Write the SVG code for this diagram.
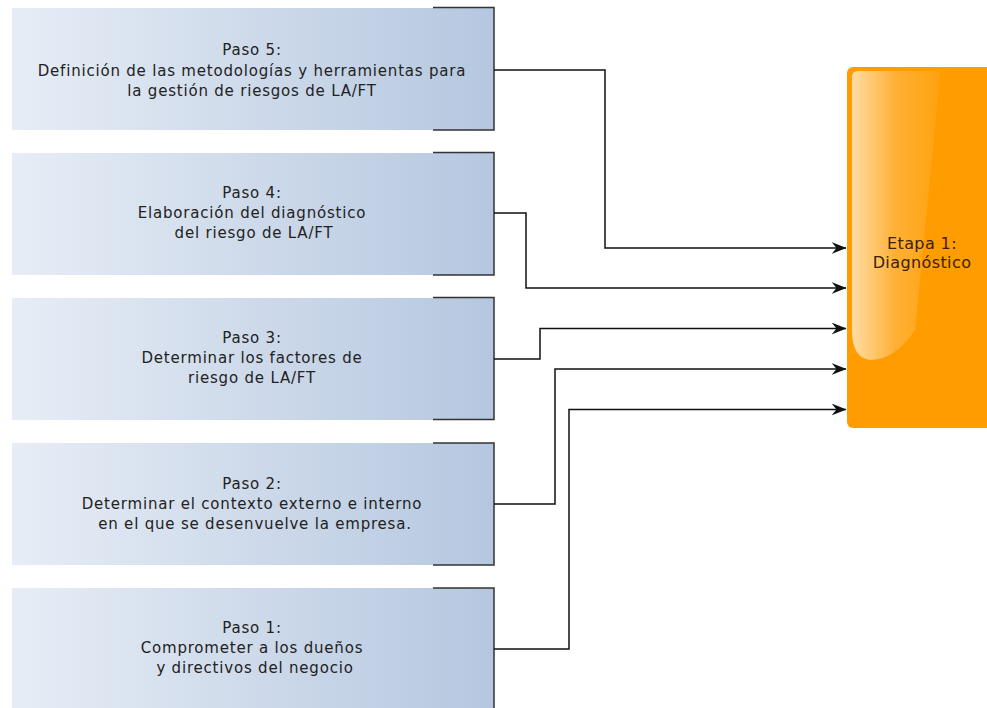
<svg xmlns="http://www.w3.org/2000/svg" width="987" height="708" viewBox="0 0 987 708">
<defs>
<linearGradient id="boxg" x1="0" y1="0" x2="1" y2="0">
<stop offset="0" stop-color="#e7edf6"/>
<stop offset="1" stop-color="#b5c7df"/>
</linearGradient>
<linearGradient id="gloss" x1="0" y1="0" x2="1" y2="0">
<stop offset="0" stop-color="#fff" stop-opacity="0.65"/>
<stop offset="0.5" stop-color="#fff" stop-opacity="0.2"/>
<stop offset="1" stop-color="#fff" stop-opacity="0.06"/>
</linearGradient>
<marker id="arr" viewBox="0 0 15 12" refX="14.5" refY="6" markerWidth="15" markerHeight="12" markerUnits="userSpaceOnUse" orient="auto">
<path d="M0,0 L15,6 L0,12 L5,6 Z" fill="#111"/>
</marker>
</defs>
<style>
.box{fill:url(#boxg);}
.br{fill:none;stroke:#333;stroke-width:1.5;}
.t{font-family:"DejaVu Sans",Verdana,sans-serif;font-size:15px;letter-spacing:0.8px;fill:#222;text-anchor:middle;}
.et{font-family:"DejaVu Sans",Verdana,sans-serif;font-size:16px;letter-spacing:0.4px;fill:#3a2106;text-anchor:middle;}
.c{fill:none;stroke:#111;stroke-width:1.5;marker-end:url(#arr);}
</style>
<rect width="987" height="708" fill="#fff"/>
<g id="paso5">
<rect class="box" x="12" y="8" width="482" height="122"/>
<path class="br" d="M433,7.5 H494 V130 H433"/>
<text class="t" x="252" y="55">Paso 5:</text>
<text class="t" x="252" y="76">Definición de las metodologías y herramientas para</text>
<text class="t" x="252" y="96">la gestión de riesgos de LA/FT</text>
</g>
<g id="paso4">
<rect class="box" x="12" y="153" width="482" height="122"/>
<path class="br" d="M433,152.5 H494 V275 H433"/>
<text class="t" x="252" y="198">Paso 4:</text>
<text class="t" x="252" y="218">Elaboración del diagnóstico</text>
<text class="t" x="254" y="238">del riesgo de LA/FT</text>
</g>
<g id="paso3">
<rect class="box" x="12" y="298" width="482" height="122"/>
<path class="br" d="M433,297.5 H494 V419.5 H433"/>
<text class="t" x="252" y="343">Paso 3:</text>
<text class="t" x="252" y="363">Determinar los factores de</text>
<text class="t" x="252" y="383">riesgo de LA/FT</text>
</g>
<g id="paso2">
<rect class="box" x="12" y="443" width="482" height="122"/>
<path class="br" d="M433,443 H494 V565 H433"/>
<text class="t" x="252" y="489">Paso 2:</text>
<text class="t" x="252" y="509">Determinar el contexto externo e interno</text>
<text class="t" x="255" y="529">en el que se desenvuelve la empresa.</text>
</g>
<g id="paso1">
<rect class="box" x="12" y="588" width="482" height="125"/>
<path class="br" d="M433,588 H494 V710"/>
<text class="t" x="252" y="633">Paso 1:</text>
<text class="t" x="252" y="653">Comprometer a los dueños</text>
<text class="t" x="255" y="673">y directivos del negocio</text>
</g>
<g id="etapa1">
<rect x="847" y="67" width="150" height="361" rx="6" fill="#ff9c00"/>
<path d="M858,71 H935 Q941,71 940,78 L915,330 Q895,360 870,360 Q852,358 852,330 V77 Q852,71 858,71 Z" fill="url(#gloss)"/>
<text class="et" x="922" y="249">Etapa 1:</text>
<text class="et" x="922" y="268">Diagnóstico</text>
</g>
<g id="connectors">
<path class="c" d="M494,70 H605 V248 H846"/>
<path class="c" d="M494,213 H526 V288 H846"/>
<path class="c" d="M494,359 H540 V328.5 H846"/>
<path class="c" d="M494,504 H555 V369 H846"/>
<path class="c" d="M494,649 H569 V409.5 H846"/>
</g>
</svg>
